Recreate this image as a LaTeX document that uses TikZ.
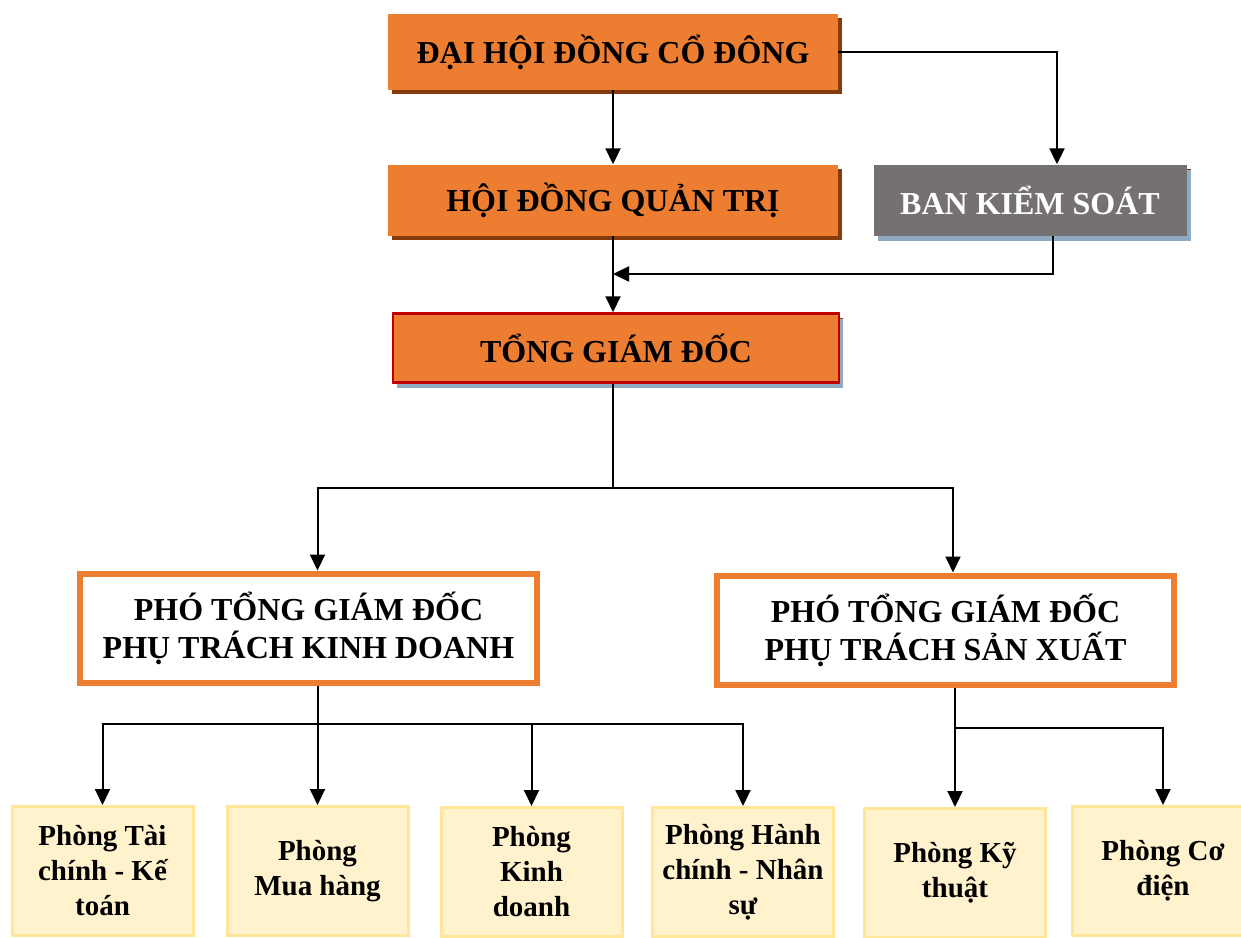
\documentclass[tikz,border=0pt]{standalone}
\usepackage{fontspec}
\setmainfont{Liberation Serif}
\usetikzlibrary{arrows.meta, shadows, calc}
\definecolor{orangebox}{HTML}{ED7D31}
\definecolor{brownshadow}{HTML}{843C0C}
\definecolor{blueshadow}{HTML}{8FAAC3}
\definecolor{greybox}{HTML}{767171}
\definecolor{redline}{HTML}{C00000}
\definecolor{yellowbox}{HTML}{FFF2CC}
\definecolor{yellowline}{HTML}{FFE699}
\tikzstyle{headbox} = [rectangle, 
minimum width=450pt, 
minimum height=71pt, 
inner sep=0pt, 
text centered, 
fill=orangebox, 
font=\bfseries\fontsize{32}{38}\selectfont, 
drop shadow={shadow xshift=4pt, shadow yshift=-4pt, fill=brownshadow, opacity=1}]
\tikzstyle{chiefbox} = [headbox, 
minimum width=446pt, 
minimum height=69pt, 
draw=redline, line width=2.5pt, 
drop shadow={shadow xshift=4pt, shadow yshift=-5pt, fill=blueshadow, opacity=1}]
\tikzstyle{controlbox} = [headbox, 
minimum width=313pt, 
fill=greybox, text=white, 
drop shadow={shadow xshift=4pt, shadow yshift=-5pt, fill=blueshadow, opacity=1}]
\tikzstyle{deputy} = [rectangle, 
minimum width=457pt, 
minimum height=109pt, 
inner sep=0pt, 
align=center, 
draw=orangebox, line width=6pt, 
fill=white, 
font=\bfseries\fontsize{32}{38}\selectfont]
\tikzstyle{dept} = [rectangle, 
minimum width=181pt, 
minimum height=129pt, 
inner sep=0pt, 
align=center, 
draw=yellowline, line width=3pt, 
fill=yellowbox, 
font=\bfseries\fontsize{29}{35}\selectfont]
\tikzstyle{conn} = [line width=2pt]
\tikzstyle{arrow} = [conn, -{Triangle[width=15pt,length=16pt]}]

\begin{document}
\begin{tikzpicture}[x=1pt, y=1pt, node distance=148pt]

\clip (0,0) rectangle (1241,-937);

\node (DH) [headbox, minimum height=76pt] at (613,-52) {ĐẠI HỘI ĐỒNG CỔ ĐÔNG};
\node (HD) [headbox, below of=DH] {HỘI ĐỒNG QUẢN TRỊ};
\node (BKS) [controlbox, below of=DH, xshift=417pt] {BAN KIỂM SOÁT};
\node (TGD) [chiefbox, below of=HD, xshift=3pt] {TỔNG GIÁM ĐỐC};
\node (pgd1) [deputy, below of=TGD, xshift=-307.5pt, yshift=-132pt] {PHÓ TỔNG GIÁM ĐỐC\\PHỤ TRÁCH KINH DOANH};
\node (pgd2) [deputy, below of=TGD, xshift=329.5pt, yshift=-134pt] {PHÓ TỔNG GIÁM ĐỐC\\PHỤ TRÁCH SẢN XUẤT};

% phong ban
\node (ph1) [dept] at (102.5,-871) {Phòng Tài\\chính - Kế\\toán};
\node (ph2) [dept] at (317.5,-871) {Phòng\\Mua hàng};
\node (ph3) [dept] at (531.5,-872) {Phòng\\Kinh\\doanh};
\node (ph4) [dept] at (743,-872) {Phòng Hành\\chính - Nhân\\sự};
\node (ph5) [dept] at (955,-873) {Phòng Kỹ\\thuật};
\node (ph6) [dept] at (1163,-871) {Phòng Cơ\\điện};

\draw [arrow] (DH) -- (HD);
\draw [arrow] (DH.east) -| ([xshift=27pt]BKS.north);
\draw [arrow] (HD.south) -- (HD.south |- TGD.north);
\coordinate (join) at ($(HD.south)!0.5!(HD.south |- TGD.north)$);
\draw [arrow] ([xshift=23pt]BKS.south) |- (join);

\coordinate (split) at ([yshift=-104pt]HD.south |- TGD.south);
\draw [conn] (split |- TGD.south) -- (split);
\draw [arrow] (split) -| ([xshift=9pt]pgd1.north);
\draw [arrow] (split) -| ([xshift=7.5pt]pgd2.north);

\coordinate (kd) at ([xshift=9pt, yshift=-38pt]pgd1.south);
\draw [conn] (kd |- pgd1.south) -- (kd);
\foreach \p in {ph1,ph2,ph3,ph4}
  \draw [arrow] (kd) -| (\p.north);

\coordinate (sx) at ([xshift=9.5pt, yshift=-40pt]pgd2.south);
\draw [conn] (sx |- pgd2.south) -- (sx);
\foreach \p in {ph5,ph6}
  \draw [arrow] (sx) -| (\p.north);

\end{tikzpicture}
\end{document}
